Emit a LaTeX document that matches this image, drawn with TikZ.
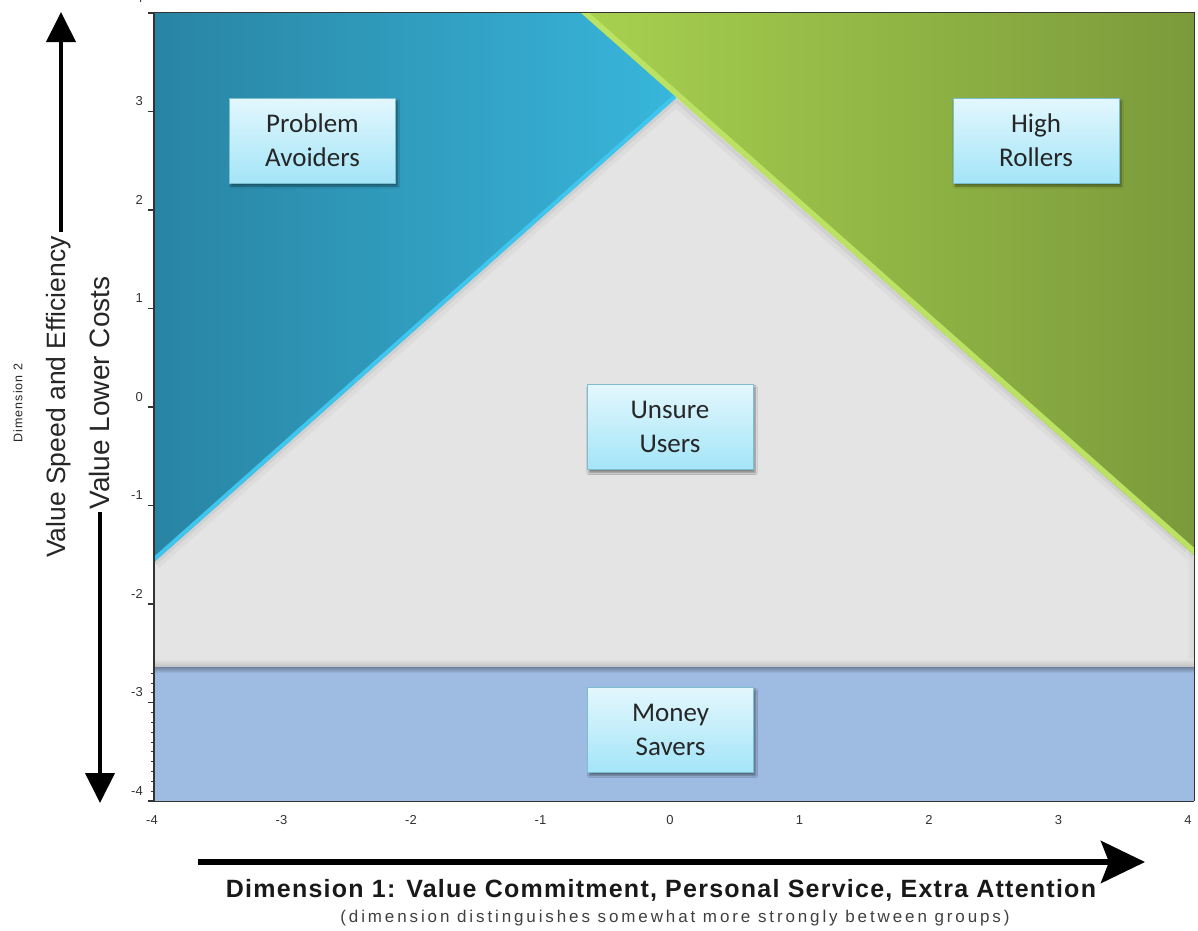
\documentclass[tikz,border=0pt]{standalone}
\usepackage{fontspec}
\setmainfont{Liberation Sans}
\newfontfamily\boxfont{Carlito}
\newfontfamily\titlefont[LetterSpace=5]{Liberation Sans}
\newfontfamily\subfont[LetterSpace=17]{Liberation Sans}
\newfontfamily\dimfont[LetterSpace=8]{Liberation Sans}
\usetikzlibrary{arrows.meta,shadows.blur}
\definecolor{blueL}{HTML}{2984A3}
\definecolor{blueR}{HTML}{38B6DB}
\definecolor{blueHi}{HTML}{3FC6EE}
\definecolor{greenL}{HTML}{A8D14F}
\definecolor{greenR}{HTML}{7B9A3B}
\definecolor{greenHi}{HTML}{BBE262}
\definecolor{grayBg}{HTML}{E4E4E4}
\definecolor{bandC}{HTML}{9EBBE1}
\definecolor{boxTop}{HTML}{E3F7FD}
\definecolor{boxBot}{HTML}{A3E5F8}
\definecolor{boxEdge}{HTML}{7DBDD0}
\definecolor{axisC}{HTML}{333333}
\tikzset{
  grpbox/.style={rectangle, draw=boxEdge, line width=0.8pt, top color=boxTop, bottom color=boxBot,
    minimum width=166pt, minimum height=85pt, inner sep=0pt, align=center,
    font=\boxfont\fontsize{27}{34}\selectfont, text=black!85,
    blur shadow={shadow xshift=2pt, shadow yshift=-3pt, shadow opacity=45, shadow blur steps=6}},
  ticklab/.style={font=\fontsize{13}{15}\selectfont, text=black!80, inner sep=0pt},
  bigarrow/.style={line width=4pt, -{Triangle[length=30pt,width=29pt]}},
  axlab/.style={rotate=90, inner sep=0pt, text=black!85},
}
\begin{document}
\begin{tikzpicture}[x=1pt,y=-1pt]
\useasboundingbox (0,0) rectangle (1198,930);
\fill[white] (0,0) rectangle (1198,930);

% gray background of plot
\fill[grayBg] (154,12) rectangle (1194,667);
% soft shadow below diagonals onto gray
\begin{scope}
  \clip (154,562) -- (676,98) -- (1194,555) -- (1194,667) -- (154,667) -- cycle;
  \draw[black, opacity=0.03, line width=16pt] (154,562) -- (676,98) -- (1194,555);
  \draw[black, opacity=0.05, line width=7pt] (154,562) -- (676,98) -- (1194,555);
  \shade[left color=grayBg, right color=black!20, opacity=0.5] (1186,12) rectangle (1194,667);
\end{scope}

% blue region
\shade[left color=blueL, right color=blueR] (154,12) -- (640,12) -- (676,98) -- (154,562) -- cycle;
\begin{scope}
  \clip (154,12) -- (640,12) -- (676,98) -- (154,562) -- cycle;
  \draw[blueHi, line width=8pt] (154,562) -- (676,98);
\end{scope}

% green region
\shade[left color=greenL, right color=greenR] (580,12) -- (1194,12) -- (1194,555) -- cycle;
\begin{scope}
  \clip (580,12) -- (1194,12) -- (1194,555) -- cycle;
  \draw[greenHi, line width=11pt] (580,12) -- (1194,555);
\end{scope}

% gray bottom shadow and band
\shade[top color=grayBg, bottom color=black!25] (154,659) rectangle (1194,667);
\fill[bandC] (154,667) rectangle (1194,801);
\shade[top color=bandC!70!black, bottom color=bandC] (154,667) rectangle (1194,673);

% frame
\draw[axisC, line width=0.8pt] (154,12) -- (1194,12) -- (1194,801);
\draw[axisC, line width=1.6pt] (154,12) -- (154,801);
\draw[axisC, line width=0.6pt] (154,801) -- (1194,801);

% y ticks and labels
\foreach \v in {3,2,1,0,-1,-2,-3,-4}{
  \pgfmathsetmacro{\yy}{407-98.5*\v}
  \draw[axisC, line width=1.2pt] (148,\yy) -- (154,\yy);
  \node[ticklab, anchor=east] (ylab\v) at (143,\yy-10) {\v};
}
\draw[axisC, line width=1.2pt] (148,13) -- (154,13);
\node[ticklab, anchor=east] (ylab4) at (143,-2) {4};
\foreach \m in {1,...,13}{
  \pgfmathsetmacro{\yy}{801-9.85*\m}
  \draw[axisC, line width=0.6pt] (151,\yy) -- (154,\yy);
}
% x tick labels
\foreach \v in {-4,-3,-2,-1,0,1,2,3,4}{
  \node[ticklab] (xlab\v) at (670+129.5*\v,820) {\v};
}

% group boxes
\node[grpbox] (pa) at (312.5,140.5) {Problem\\Avoiders};
\node[grpbox] (hr) at (1036,140.5) {High\\Rollers};
\node[grpbox] (uu) at (670,427) {Unsure\\Users};
\node[grpbox] (ms) at (670.5,730) {Money\\Savers};

% left axis labels and arrows
\node[axlab, font=\dimfont\fontsize{12.5}{14}\selectfont] (d2) at (18,403) {Dimension 2};
\node[axlab, font=\fontsize{26.5}{30}\selectfont] (vs) at (59,397) {Value Speed and Efficiency};
\node[axlab, font=\fontsize{28}{32}\selectfont] (vl) at (99,393) {Value Lower Costs};
\coordinate (uptip) at (61,12);
\coordinate (dntip) at (100,803);
\coordinate (vsend) at (61,232);
\coordinate (vlend) at (100,512);
\draw[bigarrow] (vsend) -- (uptip);
\draw[bigarrow] (vlend) -- (dntip);

% bottom axis arrow
\coordinate (hstart) at (198,862);
\coordinate (htip) at (1145,862);
\draw[line width=6pt, -{Stealth[length=44pt,width=42pt,inset=8pt]}] (hstart) -- (htip);

% bottom titles
\node[font=\titlefont\bfseries\fontsize{25}{28}\selectfont, text=black!90, inner sep=0pt] (t1) at (661,890)
  {Dimension 1: Value Commitment, Personal Service, Extra Attention};
\node[font=\subfont\fontsize{17}{19}\selectfont, text=black!75, inner sep=0pt] (t2) at (675,918)
  {(dimension distinguishes somewhat more strongly between groups)};
\end{tikzpicture}
\end{document}
